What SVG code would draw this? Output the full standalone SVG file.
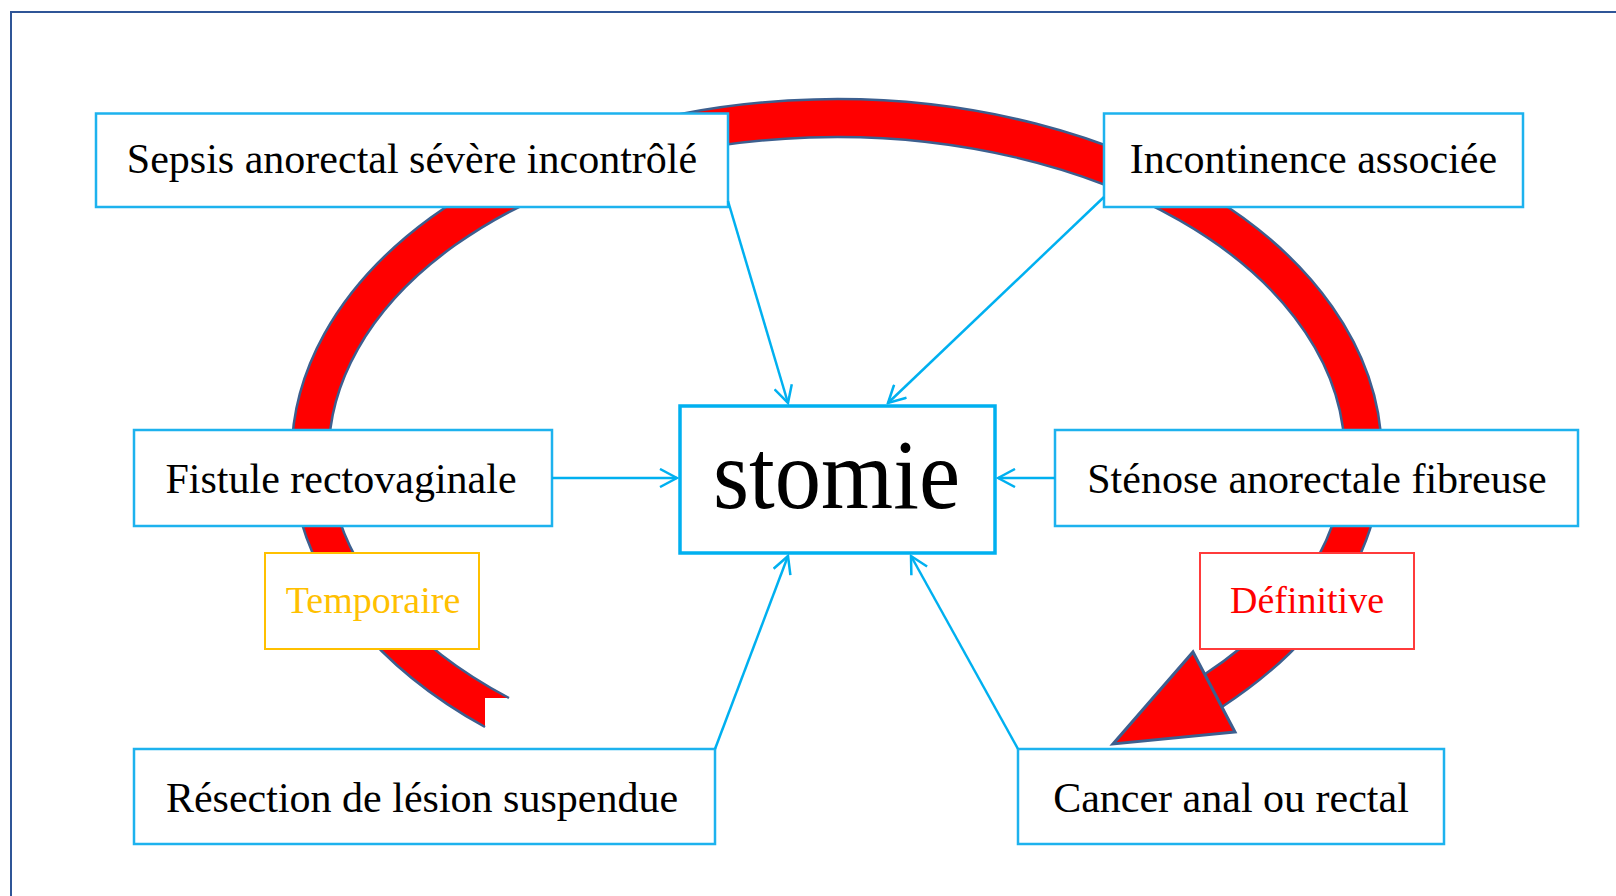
<svg xmlns="http://www.w3.org/2000/svg" width="1616" height="896" viewBox="0 0 1616 896">
  <style>
    .box { fill: #ffffff; stroke: #1DB2EE; stroke-width: 2.5; }
    .lbl { font-family: "Liberation Serif", "Times New Roman", serif; font-size: 42px; fill: #000000; text-anchor: middle; }
    .tag { font-family: "Liberation Serif", "Times New Roman", serif; font-size: 38px; text-anchor: middle; }
    .conn { fill: none; stroke: #00B0F0; stroke-width: 2.5; marker-end: url(#arr); }
    .edge { fill: none; stroke: #3C5F8F; stroke-width: 2.5; }
  </style>
  <defs>
    <marker id="arr" viewBox="0 0 20 20" refX="18" refY="10" markerWidth="20" markerHeight="20" markerUnits="userSpaceOnUse" orient="auto">
      <path d="M1,1 L18,10 L1,19" fill="none" stroke="#00B0F0" stroke-width="2.5"/>
    </marker>
  </defs>
  <rect x="0" y="0" width="1616" height="896" fill="#ffffff"/>
  <path d="M11 897 V12 H1617" fill="none" stroke="#2F5597" stroke-width="2"/>

  <g id="cycle-arrow">
    <path d="M485 727 A545 356 0 1 1 1221.9 707 L1204.7 674.3 A508 318 0 1 0 509 698 L485 698 Z" fill="#FF0000"/>
    <path class="edge" d="M485 727 A545 356 0 1 1 1221.9 707"/>
    <path class="edge" d="M1204.7 674.3 A508 318 0 1 0 509 698"/>
    <polygon points="1193,652 1235,732 1113,744" fill="#FF0000" stroke="#3C5F8F" stroke-width="3" stroke-linejoin="miter"/>
  </g>

  <g id="node-sepsis">
    <rect class="box" x="96" y="113.5" width="632" height="93.5"/>
    <text class="lbl" x="412" y="173">Sepsis anorectal sévère incontrôlé</text>
  </g>
  <g id="node-incontinence">
    <rect class="box" x="1104" y="113.5" width="419" height="93.5"/>
    <text class="lbl" x="1313.5" y="173">Incontinence associée</text>
  </g>
  <g id="node-fistule">
    <rect class="box" x="134" y="430" width="418" height="96"/>
    <text class="lbl" x="341" y="493">Fistule rectovaginale</text>
  </g>
  <g id="node-stenose">
    <rect class="box" x="1055" y="430" width="523" height="96"/>
    <text class="lbl" x="1317" y="493">Sténose anorectale fibreuse</text>
  </g>
  <g id="node-stomie">
    <rect x="680" y="406" width="315" height="147" fill="#ffffff" stroke="#00B0F0" stroke-width="3.5"/>
    <text x="836.5" y="508" font-family="Liberation Serif, Times New Roman, serif" font-size="100" text-anchor="middle" textLength="247" lengthAdjust="spacingAndGlyphs" fill="#000000">stomie</text>
  </g>
  <g id="node-temporaire">
    <rect x="265" y="553" width="214" height="96" fill="#ffffff" stroke="#FFC000" stroke-width="2"/>
    <text class="tag" x="373" y="613" fill="#FFC000">Temporaire</text>
  </g>
  <g id="node-definitive">
    <rect x="1200" y="553" width="214" height="96" fill="#ffffff" stroke="#FF3B3B" stroke-width="2"/>
    <text class="tag" x="1307" y="613" fill="#FF0000">Définitive</text>
  </g>
  <g id="node-resection">
    <rect class="box" x="134" y="749" width="581" height="95"/>
    <text class="lbl" x="422" y="812">Résection de lésion suspendue</text>
  </g>
  <g id="node-cancer">
    <rect class="box" x="1018" y="749" width="426" height="95"/>
    <text class="lbl" x="1231" y="812">Cancer anal ou rectal</text>
  </g>

  <g id="connectors">
    <line class="conn" x1="728" y1="201" x2="788" y2="403"/>
    <line class="conn" x1="1104" y1="197" x2="888" y2="403"/>
    <line class="conn" x1="552" y1="478" x2="677" y2="478"/>
    <line class="conn" x1="1055" y1="478" x2="998" y2="478"/>
    <line class="conn" x1="715" y1="749" x2="788" y2="556"/>
    <line class="conn" x1="1018" y1="749" x2="911" y2="556"/>
  </g>
</svg>
